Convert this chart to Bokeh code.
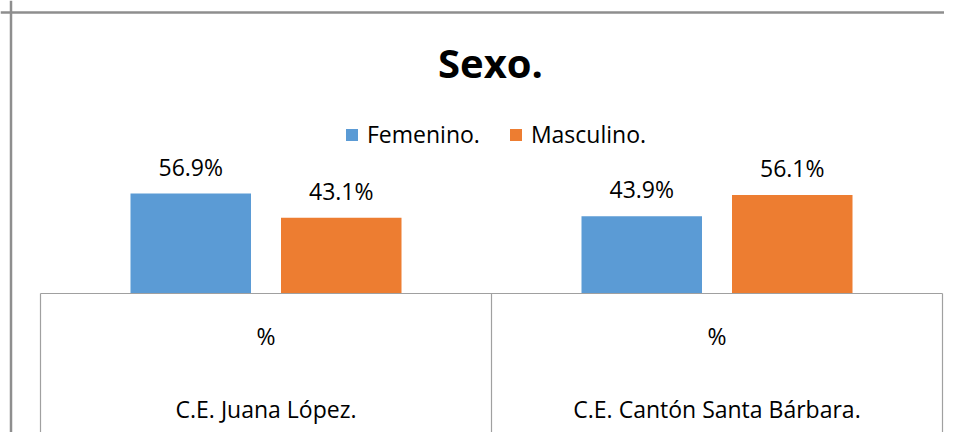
import numpy as np
from bokeh.plotting import figure
from bokeh.models import Range1d, Legend, LegendItem, Label, Span, ColumnDataSource
from bokeh.core.properties import value
from bokeh.embed import file_html
from bokeh.resources import INLINE

# ---- data ----
categories = ["C.E. Juana López.", "C.E. Cantón Santa Bárbara."]
sub_label = "%"
series_names = ["Femenino.", "Masculino."]
femenino = [56.9, 43.9]
masculino = [43.1, 56.1]
title_text = "Sexo."

colors = ["#5B9BD5", "#ED7D31"]
FONT = "Open Sans"

W, H = 944, 432
px_per_unit = 100 / 56.9          # vertical scale (px per percentage point)
base_px = 293                     # canvas y of zero line
y_top = base_px / px_per_unit
y_bot = -(H - base_px) / px_per_unit
x_left = 40                       # canvas x of first category edge
cat_px = 451                      # width of one category in px
x_start = -x_left / cat_px
x_end = (W - x_left) / cat_px

p = figure(width=W, height=H, output_backend="svg", toolbar_location=None,
           x_range=Range1d(x_start, x_end), y_range=Range1d(y_bot, y_top),
           x_axis_type=None, y_axis_type=None, min_border=0,
           background_fill_color="white", border_fill_color="white")
p.outline_line_color = None
p.xgrid.visible = False
p.ygrid.visible = False

n = len(categories)
centers = np.arange(n) + 0.5
offset = 75.25 / cat_px
bw = 120.5 / cat_px

renderers = []
for vals, off, col in zip([femenino, masculino], [-offset, offset], colors):
    src = ColumnDataSource(dict(x=centers + off, top=vals,
                                lab=[f"{v:.1f}%" for v in vals]))
    r = p.vbar(x="x", top="top", bottom=0, width=bw, source=src,
               fill_color=col, line_color=None)
    renderers.append(r)
    p.text(x="x", y="top", text="lab", source=src, text_align="center",
           text_baseline="middle", y_offset=-27, text_font=value(FONT),
           text_font_size="23px", text_color="#000000")

# category axis "table"
edges = np.arange(n + 1)
p.segment(x0=edges, y0=[0] * (n + 1), x1=edges, y1=[y_bot] * (n + 1),
          line_color="#a0a0a0", line_width=1.2)
p.segment(x0=[0], y0=[0], x1=[n], y1=[0], line_color="#a0a0a0", line_width=1.2)

csrc = ColumnDataSource(dict(x=centers, y=[0] * n, cat=categories,
                             sub=[sub_label] * n))
p.text(x="x", y="y", text="sub", source=csrc, text_align="center",
       text_baseline="middle", y_offset=42, text_font=value(FONT),
       text_font_size="23px", text_color="#000000")
p.text(x="x", y="y", text="cat", source=csrc, text_align="center",
       text_baseline="middle", y_offset=115, text_font=value(FONT),
       text_font_size="23px", text_color="#000000")

# legend
legend = Legend(items=[LegendItem(label=s, renderers=[r]) for s, r in zip(series_names, renderers)],
                orientation="horizontal", location=(344, 282),
                glyph_width=15, glyph_height=15, label_standoff=8, spacing=28,
                padding=0, margin=0, border_line_color=None,
                background_fill_alpha=0, label_text_font=FONT,
                label_text_font_size="23px", label_text_color="#000000")
p.add_layout(legend, "center")

# title
p.add_layout(Label(x=490, y=H - 62, x_units="screen", y_units="screen",
                   text=title_text, text_font=FONT, text_font_size="40px",
                   text_font_style="bold", text_align="center",
                   text_baseline="middle", text_color="#000000"))

# outer chart border (left and top edges visible)
p.add_layout(Span(location=10.5, location_units="screen", dimension="height",
                  line_color="#8e8e8e", line_width=2.5))
p.add_layout(Span(location=H - 12, location_units="screen", dimension="width",
                  line_color="#8e8e8e", line_width=2.5))

open("out.html", "w").write(file_html(p, INLINE))
